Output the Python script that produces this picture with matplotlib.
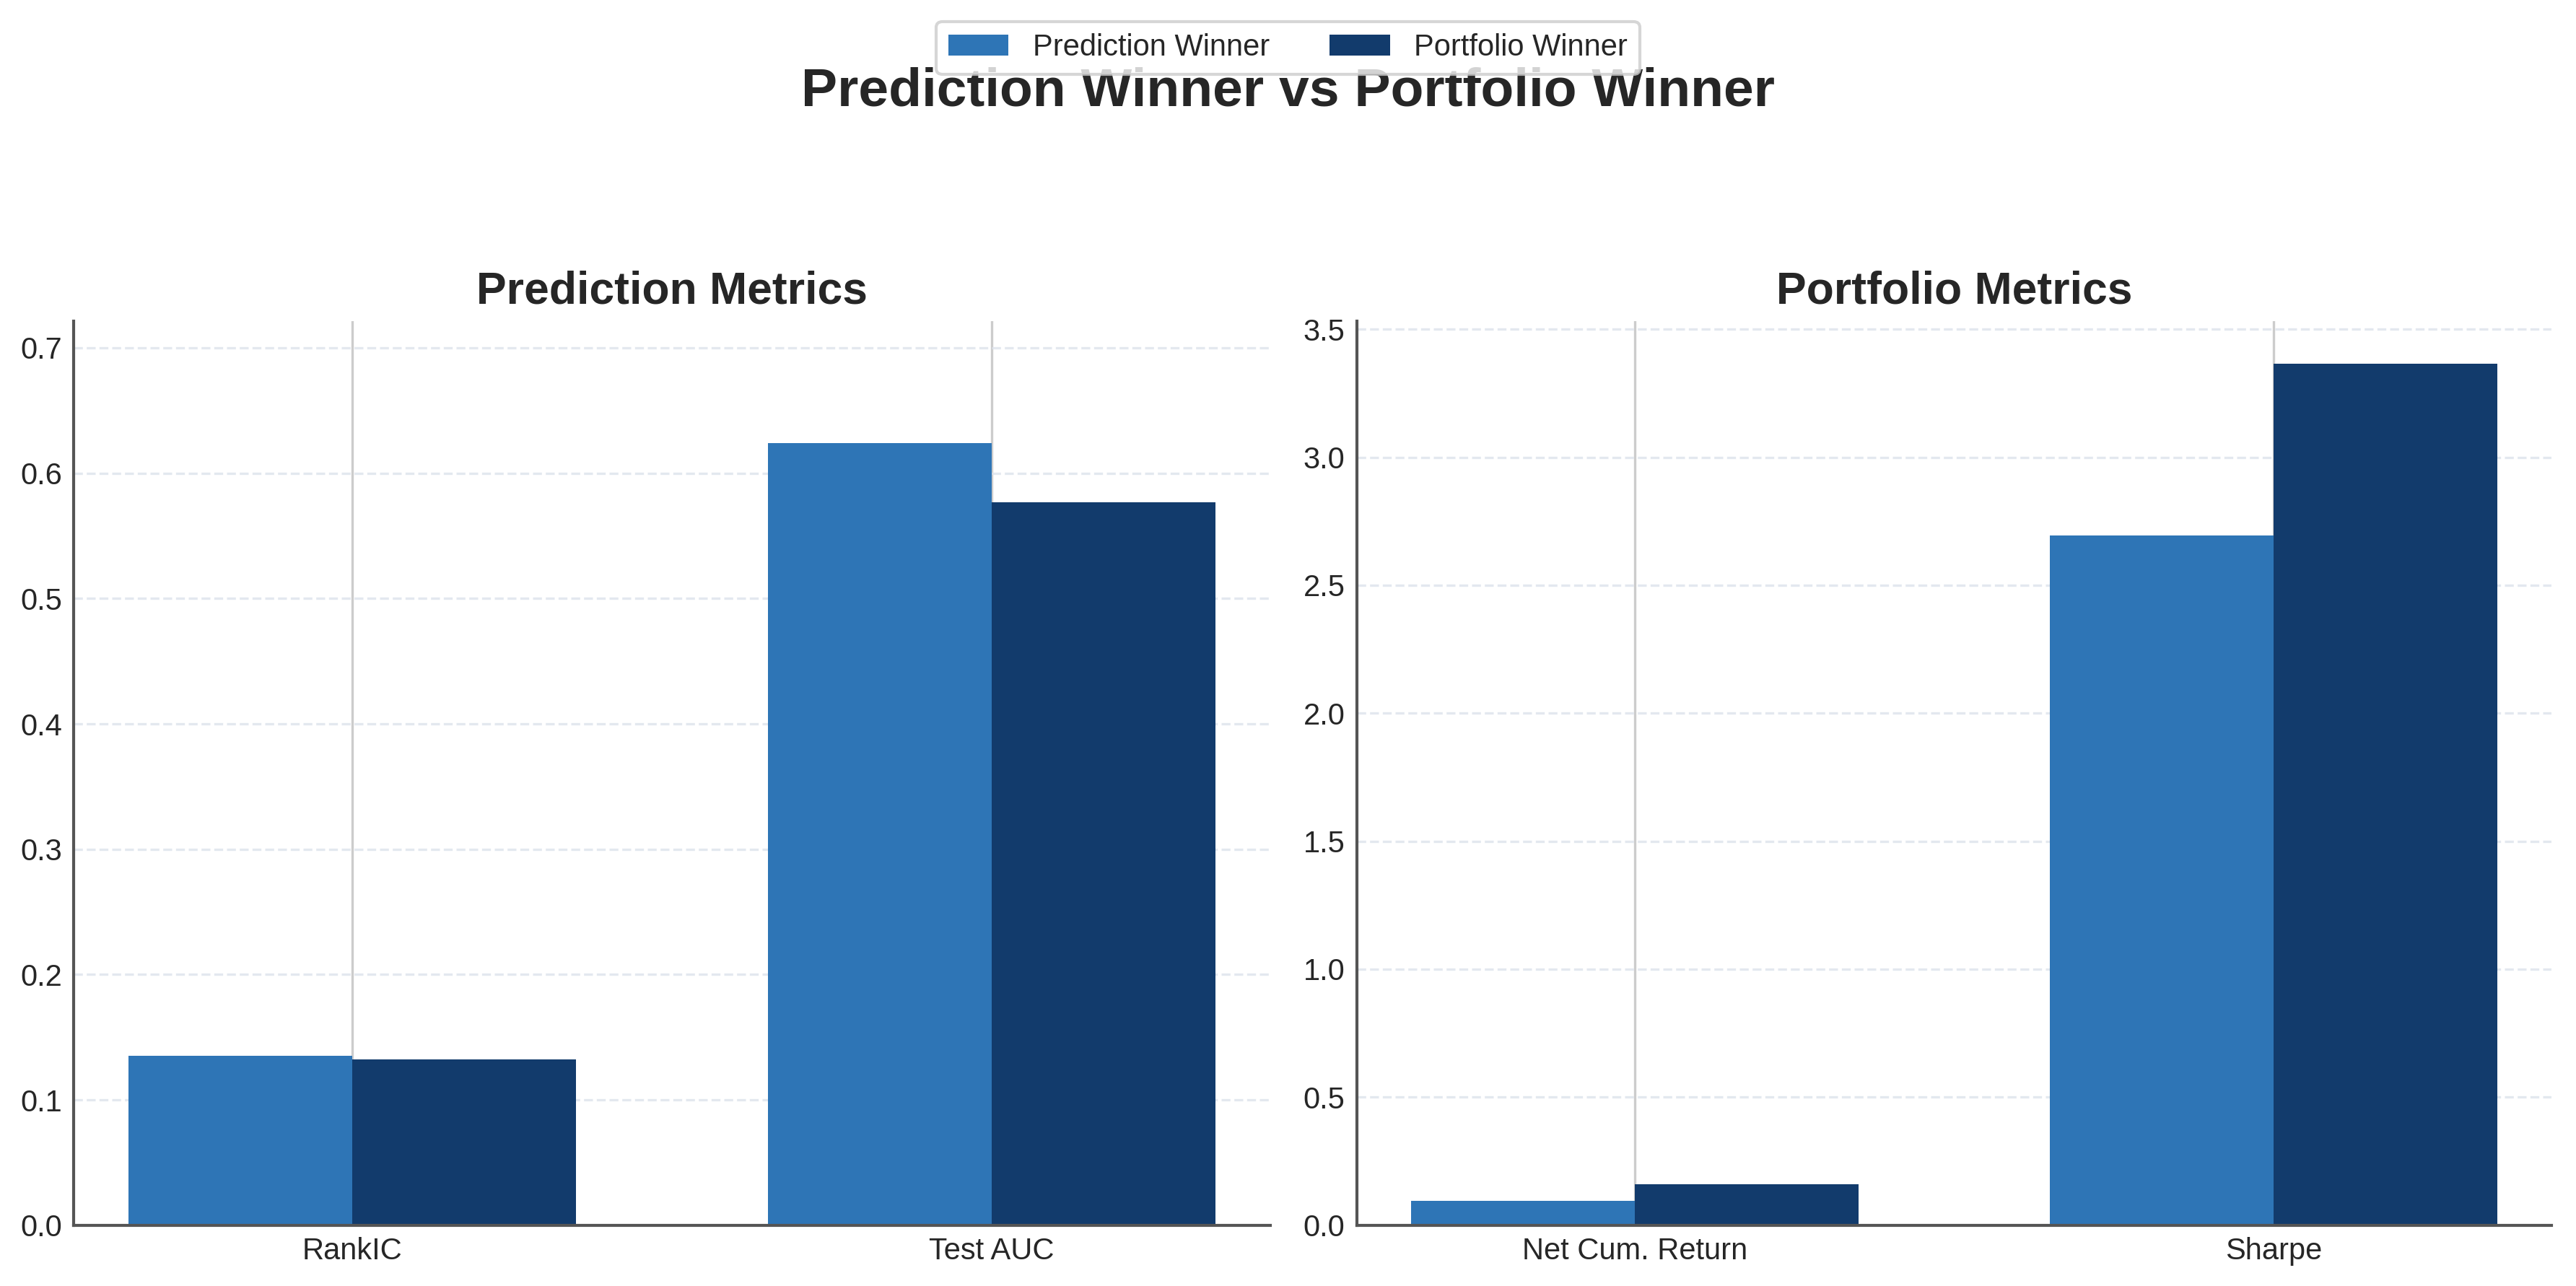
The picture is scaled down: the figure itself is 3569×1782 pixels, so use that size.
import matplotlib
matplotlib.use("Agg")
import matplotlib.pyplot as plt
import numpy as np

# values
pred_metrics = ["RankIC", "Test AUC"]
pred_winner_pred = [0.135, 0.624]
port_winner_pred = [0.132, 0.577]

port_metrics = ["Net Cum. Return", "Sharpe"]
pred_winner_port = [0.096, 2.693]
port_winner_port = [0.161, 3.366]

series_labels = ["Prediction Winner", "Portfolio Winner"]
colors = ["#2E75B6", "#123B6C"]

plt.rcParams["font.family"] = ["Liberation Sans", "DejaVu Sans"]
plt.rcParams["text.color"] = "#262626"
plt.rcParams["xtick.color"] = "#262626"
plt.rcParams["ytick.color"] = "#262626"


def draw_panel(ax, cats, a, b, title, ylim, yticks):
    x = np.arange(len(cats))
    w = 0.35
    ax.bar(x - w / 2, a, w, color=colors[0], label=series_labels[0], zorder=2)
    ax.bar(x + w / 2, b, w, color=colors[1], label=series_labels[1], zorder=2)
    ax.set_xticks(x)
    ax.set_xticklabels(cats, fontsize=10)
    ax.set_ylim(*ylim)
    ax.set_yticks(yticks)
    ax.tick_params(axis="y", labelsize=10, length=0, pad=4)
    ax.tick_params(axis="x", length=0, pad=4)
    ax.set_title(title, fontsize=15, fontweight="bold", pad=6)
    ax.grid(axis="y", linestyle="--", color="#dde3ec", linewidth=0.8, alpha=0.8, zorder=0)
    ax.grid(axis="x", linestyle="-", color="#cccccc", linewidth=0.8, zorder=0)
    ax.set_axisbelow(True)
    for s in ["top", "right"]:
        ax.spines[s].set_visible(False)
    for s in ["left", "bottom"]:
        ax.spines[s].set_color("#555555")
        ax.spines[s].set_linewidth(1.0)


fig = plt.figure(figsize=(3569 / 300, 1782 / 300), dpi=300)
ax1 = fig.add_axes([0.0287, 0.0473, 0.4643, 0.7027])
ax2 = fig.add_axes([0.5268, 0.0473, 0.4636, 0.7027])

draw_panel(ax1, pred_metrics, pred_winner_pred, port_winner_pred,
           "Prediction Metrics", (0, 0.721), np.arange(0, 0.71, 0.1))
draw_panel(ax2, port_metrics, pred_winner_port, port_winner_port,
           "Portfolio Metrics", (0, 3.53), np.arange(0, 3.51, 0.5))

fig.suptitle("Prediction Winner vs Portfolio Winner", fontsize=18, fontweight="bold", y=0.948)
handles, labels = ax1.get_legend_handles_labels()
fig.legend(handles, labels, loc="upper center", bbox_to_anchor=(0.5, 0.995), ncol=2,
           fontsize=10, frameon=True, edgecolor="#cccccc", fancybox=True,
           handlelength=2.0, columnspacing=2.0)

fig.savefig("out.png", dpi=300)
